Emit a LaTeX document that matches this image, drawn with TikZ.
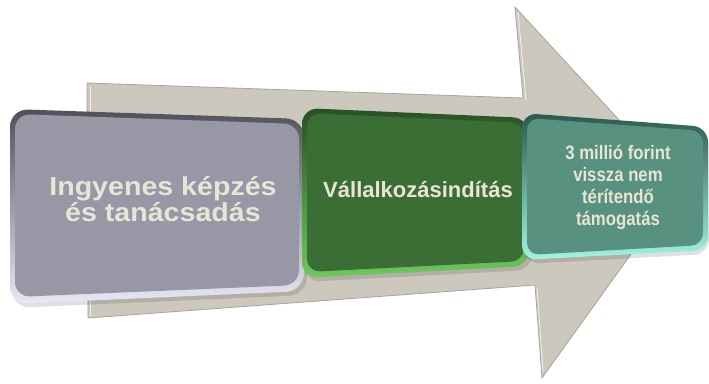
\documentclass[tikz,border=0pt]{standalone}
\usepackage{fontspec}
\setmainfont{Liberation Sans}
\newfontfamily\widebf{Liberation Sans}[FakeStretch=1.1]
\newfontfamily\narrowbf{Liberation Sans}[FakeStretch=0.86]
\definecolor{arrowfill}{RGB}{204,200,189}
\definecolor{arrowline}{RGB}{168,164,152}
\definecolor{txtcol}{RGB}{232,229,214}
\definecolor{boxA}{RGB}{152,151,166}
\definecolor{rimAt}{RGB}{80,80,90}
\definecolor{rimAb}{RGB}{232,232,246}
\definecolor{boxB}{RGB}{58,110,52}
\definecolor{rimBt}{RGB}{40,80,36}
\definecolor{rimBb}{RGB}{110,200,95}
\definecolor{boxC}{RGB}{88,145,128}
\definecolor{rimCt}{RGB}{42,90,78}
\definecolor{rimCb}{RGB}{160,245,225}
\begin{document}
\begin{tikzpicture}[x=1pt,y=-1pt,line join=round,
  txt/.style={text=txtcol, align=center, inner sep=0pt},
  boxshadow/.style={fill=black, opacity=0.12}]
\useasboundingbox (0,0) rectangle (709,383);
\fill[white] (0,0) rectangle (709,383);
% big arrow
\filldraw[fill=arrowfill, draw=arrowline, line width=0.8pt]
  (87,83) -- (523,98) -- (515,7) -- (680,186) -- (542,378) -- (535,285) -- (88,318) -- cycle;
\draw[white, opacity=0.7, line width=0.9pt]
  (90,316) -- (90,86);
\draw[white, opacity=0.7, line width=0.9pt]
  (518,12) -- (526,100);
\draw[white, opacity=0.7, line width=0.9pt]
  (537,288) -- (543,372);
% box 1
\fill[boxshadow, rounded corners=18pt] (12,113) -- (307,123) -- (307,295) -- (12,308) -- cycle;
\shade[top color=rimAt, bottom color=rimAb, rounded corners=18pt]
  (10,109) -- (304,119) -- (304,291) -- (10,304) -- cycle;
\fill[boxA, rounded corners=15pt]
  (15,114) -- (299,124) -- (299,285) -- (15,297) -- cycle;
% box 2
\fill[boxshadow, rounded corners=16pt] (304,112) -- (532,122) -- (532,270) -- (304,282) -- cycle;
\shade[top color=rimBt, bottom color=rimBb, rounded corners=16pt]
  (302,108) -- (529,118) -- (529,266) -- (302,278) -- cycle;
\fill[boxB, rounded corners=13pt]
  (307,113) -- (524,123) -- (524,261) -- (307,272) -- cycle;
% box 3
\fill[boxshadow, rounded corners=15pt] (524,117) -- (709,131) -- (709,254) -- (524,264) -- cycle;
\shade[top color=rimCt, bottom color=rimCb, rounded corners=15pt]
  (522,113) -- (708,127) -- (708,250) -- (522,260) -- cycle;
\fill[boxC, rounded corners=12pt]
  (527,118) -- (703,131) -- (703,245) -- (527,255) -- cycle;
% texts
\node[txt, font=\widebf\bfseries\fontsize{26}{26}\selectfont] (t1) at (163,199)
  {Ingyenes képzés\\és tanácsadás};
\node[txt, font=\bfseries\fontsize{22}{26}\selectfont, anchor=base] (t2) at (418,197)
  {Vállalkozásindítás};
\node[txt, font=\narrowbf\bfseries\fontsize{19.5}{22}\selectfont] (t3) at (618,187)
  {3 millió forint\\vissza nem\\térítendő\\támogatás};
\end{tikzpicture}
\end{document}
